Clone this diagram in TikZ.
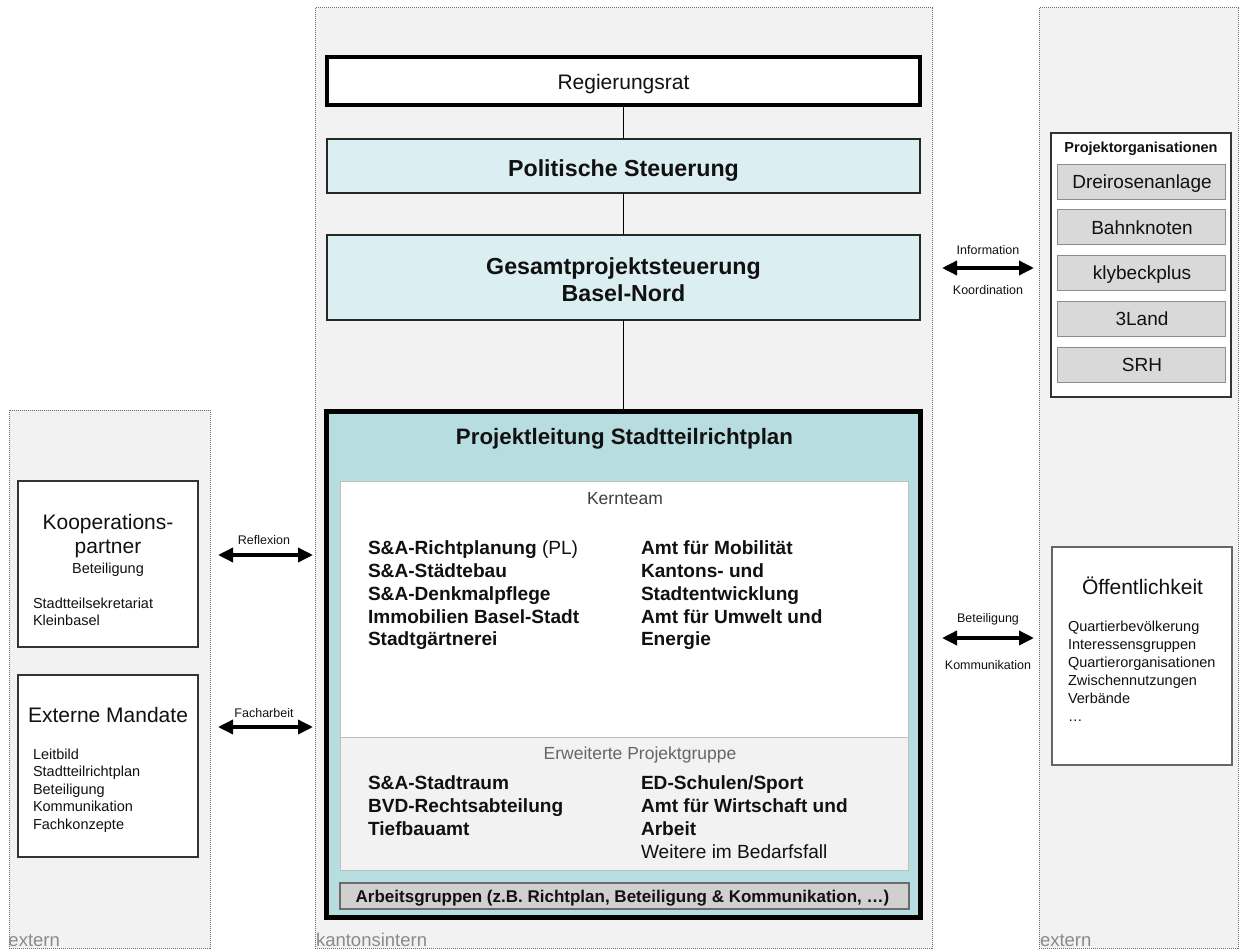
\documentclass[tikz,border=0pt]{standalone}
\usepackage{fontspec}
\setmainfont{Liberation Sans}
\usetikzlibrary{arrows.meta}
\definecolor{panelfill}{HTML}{F2F2F2}
\definecolor{paneldraw}{HTML}{6A6A6A}
\definecolor{lightblue}{HTML}{DBEEF1}
\definecolor{tealfill}{HTML}{B8DDE1}
\definecolor{kernline}{HTML}{BFBFBF}
\definecolor{subfill}{HTML}{D9D9D9}
\definecolor{subdraw}{HTML}{8C8C8C}
\definecolor{agfill}{HTML}{D0D0D0}
\definecolor{txt}{HTML}{111111}
\definecolor{graytxt}{HTML}{8A8A8A}
\definecolor{midtxt}{HTML}{666666}
\newcommand{\fs}[2]{\fontsize{#1}{#2}\selectfont}
\tikzset{
  panel/.style={draw=paneldraw, fill=panelfill, line width=1pt, dash pattern=on 1pt off 1pt, inner sep=0pt, outer sep=0pt},
  boxbase/.style={inner sep=0pt, outer sep=0pt},
  thickbox/.style={boxbase, draw=black, line width=4.5pt},
  bluebox/.style={boxbase, draw=black!85, fill=lightblue, line width=1.2pt},
  whitebox/.style={boxbase, draw=black!80, fill=white, line width=1.5pt},
  subbox/.style={boxbase, draw=subdraw, fill=subfill, line width=1pt},
  txtnode/.style={inner sep=0pt, outer sep=0pt, text=txt},
  listnode/.style={txtnode, align=left, anchor=north west},
  link/.style={draw=black, line width=1.5pt},
  biarrow/.style={line width=3.5pt, {Triangle[length=15pt,width=14pt]}-{Triangle[length=15pt,width=14pt]}},
  arrlabel/.style={txtnode, anchor=base, font=\fs{12.5}{15}},
  panellabel/.style={inner sep=0pt, outer sep=0pt, text=graytxt, anchor=base west, font=\fs{18.5}{22}}
}
\begin{document}
\begin{tikzpicture}[x=1pt,y=-1pt]
\useasboundingbox (0,0) rectangle (1240,952);
% panels
\node[panel, minimum width=201pt, minimum height=538pt] (leftpanel) at (109.5,679) {};
\node[panel, minimum width=617pt, minimum height=940pt] (centerpanel) at (623.5,478) {};
\node[panel, minimum width=199pt, minimum height=940pt] (rightpanel) at (1138.5,478) {};
\node[panellabel] (lbl-l) at (8.5,946.5) {extern};
\node[panellabel] (lbl-c) at (316,946.5) {kantonsintern};
\node[panellabel] (lbl-r) at (1040,946.5) {extern};

% top chain
\node[thickbox, fill=white, minimum width=593pt, minimum height=48pt] (regrat) at (623.5,81) {};
\node[txtnode, anchor=base, font=\fs{21}{25}] (regrat-t) at (623.5,89.5) {Regierungsrat};
\node[bluebox, minimum width=593pt, minimum height=54pt] (polst) at (623.5,166) {};
\node[txtnode, anchor=base, font=\bfseries\fs{23.2}{27}] (polst-t) at (623.5,176.5) {Politische Steuerung};
\node[bluebox, minimum width=593pt, minimum height=85pt] (gps) at (623.5,277.5) {};
\node[txtnode, align=center, font=\bfseries\fs{23.2}{27}] (gps-t) at (623.5,279.5) {Gesamtprojektsteuerung\\Basel-Nord};

% Projektleitung
\node[thickbox, draw=black, fill=tealfill, line width=5pt, minimum width=594pt, minimum height=506pt] (pl) at (623.5,664.5) {};
\node[txtnode, anchor=base, font=\bfseries\fs{22.3}{26}] (pl-t) at (624.5,444.5) {Projektleitung Stadtteilrichtplan};
\node[boxbase, draw=kernline, fill=white, line width=1pt, minimum width=568pt, minimum height=256pt] (kern) at (624,609) {};
\node[boxbase, draw=kernline, fill=panelfill, line width=1pt, minimum width=568pt, minimum height=133pt] (erw) at (624,803.5) {};
\node[txtnode, text=black!75, anchor=base, font=\fs{17.5}{20}] (kern-t) at (625,504) {Kernteam};
\node[listnode, font=\bfseries\fs{19.1}{22.8}] (kern-l) at (368,538.8) {\strut S\&A-Richtplanung \textmd{(PL)}\\S\&A-Städtebau\\S\&A-Denkmalpflege\\Immobilien Basel-Stadt\\Stadtgärtnerei};
\node[listnode, font=\bfseries\fs{19.1}{22.8}] (kern-r) at (641,538.8) {\strut Amt für Mobilität\\Kantons- und\\Stadtentwicklung\\Amt für Umwelt und\\Energie};
\node[txtnode, text=midtxt, anchor=base, font=\fs{17.5}{20}] (erw-t) at (640,759) {Erweiterte Projektgruppe};
\node[listnode, font=\bfseries\fs{19.1}{23}] (erw-l) at (368,773.7) {\strut S\&A-Stadtraum\\BVD-Rechtsabteilung\\Tiefbauamt};
\node[listnode, font=\bfseries\fs{19.1}{23}] (erw-r) at (641,773.7) {\strut ED-Schulen/Sport\\Amt für Wirtschaft und\\Arbeit\\\textmd{Weitere im Bedarfsfall}};
\node[boxbase, draw=paneldraw, fill=agfill, line width=1.2pt, minimum width=569pt, minimum height=26pt] (ag) at (624.5,896) {};
\node[txtnode, anchor=base, font=\bfseries\fs{17}{20}] (ag-t) at (622.5,902.5) {Arbeitsgruppen (z.B. Richtplan, Beteiligung \& Kommunikation, \dots)};

\draw[link] (regrat) -- (polst);
\draw[link] (polst) -- (gps);
\draw[link] (gps) -- (pl);

% left side
\node[whitebox, minimum width=180pt, minimum height=166pt] (koop) at (108,564) {};
\node[txtnode, anchor=base, font=\fs{21}{24}] (koop-t1) at (108,529.5) {Kooperations-};
\node[txtnode, anchor=base, font=\fs{21}{24}] (koop-t2) at (108,553.5) {partner};
\node[txtnode, anchor=base, font=\fs{14.5}{17}] (koop-t3) at (108,573) {Beteiligung};
\node[listnode, font=\fs{14.5}{17}] (koop-l) at (33,596.3) {\strut Stadtteilsekretariat\\Kleinbasel};
\node[whitebox, minimum width=180pt, minimum height=182pt] (extm) at (108,766) {};
\node[txtnode, anchor=base, font=\fs{21}{24}] (extm-t) at (108,722.5) {Externe Mandate};
\node[listnode, font=\fs{14.5}{17.5}] (extm-l) at (33,747) {\strut Leitbild\\Stadtteilrichtplan\\Beteiligung\\Kommunikation\\Fachkonzepte};

\coordinate (refl-a) at (218,555);
\coordinate (refl-b) at (313,555);
\draw[biarrow] (refl-a) -- (refl-b);
\node[arrlabel] (refl-t) at (264,544.5) {Reflexion};
\coordinate (fach-a) at (218,727);
\coordinate (fach-b) at (313,727);
\draw[biarrow] (fach-a) -- (fach-b);
\node[arrlabel] (fach-t) at (264,717.5) {Facharbeit};

% right side
\node[whitebox, minimum width=180pt, minimum height=264pt] (porg) at (1141,265) {};
\node[txtnode, anchor=base, font=\bfseries\fs{14.5}{17}] (porg-t) at (1141,153) {Projektorganisationen};
\node[subbox, minimum width=168pt, minimum height=35pt] (p1) at (1141,182) {};
\node[txtnode, anchor=base, font=\fs{19}{22}] (p1-t) at (1142,188.8) {Dreirosenanlage};
\node[subbox, minimum width=168pt, minimum height=35pt] (p2) at (1141,227.5) {};
\node[txtnode, anchor=base, font=\fs{19}{22}] (p2-t) at (1142,234.3) {Bahnknoten};
\node[subbox, minimum width=168pt, minimum height=35pt] (p3) at (1141,273) {};
\node[txtnode, anchor=base, font=\fs{19}{22}] (p3-t) at (1142,279.8) {klybeckplus};
\node[subbox, minimum width=168pt, minimum height=35pt] (p4) at (1141,319) {};
\node[txtnode, anchor=base, font=\fs{19}{22}] (p4-t) at (1142,325.8) {3Land};
\node[subbox, minimum width=168pt, minimum height=35pt] (p5) at (1141,364.5) {};
\node[txtnode, anchor=base, font=\fs{19}{22}] (p5-t) at (1142,371.3) {SRH};

\node[boxbase, draw=black!60, fill=white, line width=1.2pt, minimum width=180pt, minimum height=218pt] (oeff) at (1142,656) {};
\node[txtnode, anchor=base, font=\fs{21}{24}] (oeff-t) at (1142.5,594.5) {Öffentlichkeit};
\node[listnode, font=\fs{14.5}{18}] (oeff-l) at (1068,618.6) {\strut Quartierbevölkerung\\Interessensgruppen\\Quartierorganisationen\\Zwischennutzungen\\Verbände\\\dots};

\coordinate (info-a) at (942,268);
\coordinate (info-b) at (1034,268);
\draw[biarrow] (info-a) -- (info-b);
\node[arrlabel] (info-t1) at (988,254.5) {Information};
\node[arrlabel] (info-t2) at (988,294.5) {Koordination};
\coordinate (bet-a) at (942,638);
\coordinate (bet-b) at (1034,638);
\draw[biarrow] (bet-a) -- (bet-b);
\node[arrlabel] (bet-t1) at (988,622.5) {Beteiligung};
\node[arrlabel] (bet-t2) at (988,669.5) {Kommunikation};
\end{tikzpicture}
\end{document}
